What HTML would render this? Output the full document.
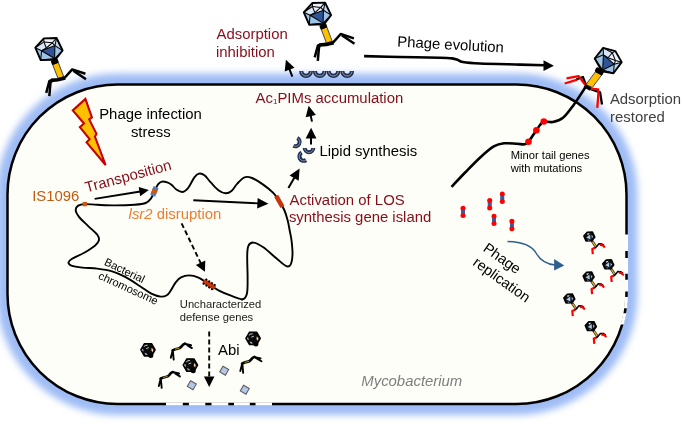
<!DOCTYPE html><html><head><meta charset="utf-8"><style>html,body{margin:0;padding:0;background:#fff;}svg{display:block;will-change:transform;}text{font-family:"Liberation Sans",sans-serif;}</style></head><body>
<svg width="683" height="429" viewBox="0 0 683 429">
<defs><filter id="glow" x="-10%" y="-10%" width="120%" height="120%"><feGaussianBlur stdDeviation="3.6"/></filter></defs>
<rect width="683" height="429" fill="#fff"/>
<rect x="7.5" y="84.5" width="619.0" height="319.5" rx="110" fill="none" stroke="#9ebcf5" stroke-width="22" filter="url(#glow)"/>
<rect x="7.5" y="84.5" width="619.0" height="319.5" rx="110" fill="#fdfef8" stroke="#000" stroke-width="2.5"/>
<defs><clipPath id="gaps"><rect x="166.0" y="396" width="16.8" height="14"/><rect x="188.9" y="396" width="16.4" height="14"/><rect x="211.5" y="396" width="16.8" height="14"/><rect x="234.0" y="396" width="15.8" height="14"/><rect x="255.5" y="396" width="16.5" height="14"/><rect x="615" y="234.6" width="20" height="16.3"/><rect x="615" y="257.9" width="20" height="15.8"/><rect x="615" y="279.7" width="20" height="11.7"/><rect x="615" y="297.0" width="20" height="11.2"/><rect x="615" y="313.3" width="20" height="11.2"/></clipPath></defs>
<rect x="7.5" y="84.5" width="619.0" height="319.5" rx="110" fill="none" stroke="#fff" stroke-width="3.1" clip-path="url(#gaps)"/>
<polygon points="85.4,98.9 91.9,117.4 89.2,119.4 96.5,133.9 94.9,136.5 105.6,165 86.6,142.3 89.6,139.2 79.9,127.2 84,123.5 72.8,110.4" fill="#ffc000" stroke="#c80000" stroke-width="2.1" stroke-linejoin="miter"/>
<path d="M84.80,204.10 C87.98,203.97 92.12,204.58 97.30,204.80 C102.48,205.02 109.70,205.42 115.90,205.40 C122.10,205.38 129.53,205.10 134.50,204.70 C139.47,204.30 142.95,204.03 145.70,203.00 C148.45,201.97 149.55,200.43 151.00,198.50 C152.45,196.57 153.20,193.78 154.40,191.40 C155.60,189.02 156.93,185.83 158.20,184.20 C159.47,182.57 160.62,181.93 162.00,181.60 C163.38,181.27 164.92,181.68 166.50,182.20 C168.08,182.72 169.92,183.53 171.50,184.70 C173.08,185.87 174.17,187.98 176.00,189.20 C177.83,190.42 180.43,192.27 182.50,192.00 C184.57,191.73 186.45,190.00 188.40,187.60 C190.35,185.20 192.43,179.93 194.20,177.60 C195.97,175.27 197.28,173.98 199.00,173.60 C200.72,173.22 202.50,173.78 204.50,175.30 C206.50,176.82 208.68,180.22 211.00,182.70 C213.32,185.18 215.97,188.43 218.40,190.20 C220.83,191.97 223.42,193.17 225.60,193.30 C227.78,193.43 229.55,192.62 231.50,191.00 C233.45,189.38 235.13,185.88 237.30,183.60 C239.47,181.32 242.05,178.23 244.50,177.30 C246.95,176.37 248.88,176.78 252.00,178.00 C255.12,179.22 259.62,182.07 263.20,184.60 C266.78,187.13 270.83,190.43 273.50,193.20 C276.17,195.97 277.40,198.40 279.20,201.20 C281.00,204.00 282.88,206.78 284.30,210.00 C285.72,213.22 286.78,217.00 287.70,220.50 C288.62,224.00 289.15,227.58 289.80,231.00 C290.45,234.42 291.15,237.05 291.60,241.00 C292.05,244.95 292.67,250.77 292.50,254.70 C292.33,258.63 291.63,262.68 290.60,264.60 C289.57,266.52 288.63,267.22 286.30,266.20 C283.97,265.18 280.43,261.65 276.60,258.50 C272.77,255.35 267.12,249.95 263.30,247.30 C259.48,244.65 256.18,242.85 253.70,242.60 C251.22,242.35 249.48,243.57 248.40,245.80 C247.32,248.03 247.33,250.70 247.20,256.00 C247.07,261.30 247.63,271.38 247.60,277.60 C247.57,283.82 247.80,289.70 247.00,293.30 C246.20,296.90 245.47,298.80 242.80,299.20 C240.13,299.60 234.88,297.08 231.00,295.70 C227.12,294.32 223.17,292.80 219.50,290.90 C215.83,289.00 212.50,286.52 209.00,284.30 C205.50,282.08 201.83,279.08 198.50,277.60 C195.17,276.12 191.92,275.43 189.00,275.40 C186.08,275.37 183.22,276.25 181.00,277.40 C178.78,278.55 177.40,280.12 175.70,282.30 C174.00,284.48 172.28,288.33 170.80,290.50 C169.32,292.67 168.50,294.28 166.80,295.30 C165.10,296.32 163.18,296.87 160.60,296.60 C158.02,296.33 154.72,295.43 151.30,293.70 C147.88,291.97 144.45,289.00 140.10,286.20 C135.75,283.40 129.85,279.38 125.20,276.90 C120.55,274.42 116.85,272.68 112.20,271.30 C107.55,269.92 102.27,269.22 97.30,268.60 C92.33,267.98 86.72,268.10 82.40,267.60 C78.08,267.10 73.72,266.47 71.40,265.60 C69.08,264.73 68.45,263.50 68.50,262.40 C68.55,261.30 69.08,260.62 71.70,259.00 C74.32,257.38 80.28,254.97 84.20,252.70 C88.12,250.43 92.75,247.47 95.20,245.40 C97.65,243.33 98.55,242.07 98.90,240.30 C99.25,238.53 99.12,237.20 97.30,234.80 C95.48,232.40 91.05,228.90 88.00,225.90 C84.95,222.90 81.05,219.42 79.00,216.80 C76.95,214.18 75.83,212.07 75.70,210.20 C75.57,208.33 76.68,206.62 78.20,205.60 C79.72,204.58 81.62,204.23 84.80,204.10 Z" fill="none" stroke="#000" stroke-width="1.9"/>
<rect x="82.6" y="201.9" width="4.4" height="4.4" fill="#c55a11"/>
<g transform="translate(154.4,191.4) rotate(21)"><rect x="-2.6" y="-4.7" width="5.2" height="9.4" fill="#3f80e0"/><rect x="-2.6" y="-2.6" width="5.2" height="5.2" fill="#c55a11"/></g>
<g transform="translate(279.3,201.4) rotate(-30)"><rect x="-2.3" y="-6.3" width="4.6" height="12.6" fill="#c7350d"/></g>
<g transform="translate(209.2,284.4) rotate(-57)"><rect x="-2.5" y="-6.6" width="5" height="13.2" fill="#c7350d"/><rect x="-3.5" y="-6.0" width="1.9" height="1.9" fill="#000"/><rect x="1.6" y="-6.0" width="1.9" height="1.9" fill="#000"/><rect x="-3.5" y="-2.6" width="1.9" height="1.9" fill="#000"/><rect x="1.6" y="-2.6" width="1.9" height="1.9" fill="#000"/><rect x="-3.5" y="0.7" width="1.9" height="1.9" fill="#000"/><rect x="1.6" y="0.7" width="1.9" height="1.9" fill="#000"/><rect x="-3.5" y="4.0" width="1.9" height="1.9" fill="#000"/><rect x="1.6" y="4.0" width="1.9" height="1.9" fill="#000"/></g>
<line x1="94.60" y1="198.90" x2="140.41" y2="191.46" stroke="#000" stroke-width="1.90"/><polygon points="148.80,190.10 140.18,196.31 138.66,186.93" fill="#000"/>
<line x1="193.30" y1="200.30" x2="258.41" y2="203.33" stroke="#000" stroke-width="1.90"/><polygon points="268.40,203.80 257.17,208.53 257.66,198.04" fill="#000"/>
<line x1="181.60" y1="223.30" x2="201.00" y2="263.69" stroke="#000" stroke-width="1.90" stroke-dasharray="5,3"/><polygon points="204.90,271.80 195.84,265.06 205.30,260.51" fill="#000"/>
<line x1="209.20" y1="331.50" x2="209.20" y2="377.50" stroke="#000" stroke-width="1.90" stroke-dasharray="5,3"/><polygon points="209.20,387.00 203.95,376.50 214.45,376.50" fill="#000"/>
<line x1="288.40" y1="188.10" x2="294.64" y2="177.18" stroke="#000" stroke-width="2.00"/><polygon points="299.60,168.50 298.70,180.66 289.58,175.45" fill="#000"/>
<line x1="311.00" y1="144.50" x2="311.04" y2="137.50" stroke="#000" stroke-width="2.00"/><polygon points="311.10,127.70 316.44,138.53 305.64,138.47" fill="#000"/>
<line x1="312.00" y1="121.60" x2="310.60" y2="115.09" stroke="#000" stroke-width="2.00"/><polygon points="308.60,105.80 315.94,114.96 305.68,117.17" fill="#000"/>
<line x1="292.30" y1="76.70" x2="289.25" y2="68.59" stroke="#000" stroke-width="2.00"/><polygon points="285.90,59.70 294.51,67.68 284.69,71.38" fill="#000"/>
<g transform="translate(295.35,141.90) rotate(-63.4)"><path d="M-6.30,0.00 A6.30,6.30 0 0 0 6.30,0.00 L2.30,0.00 A2.30,2.30 0 0 1 -2.30,0.00 Z" fill="#18305c"/><path d="M-4.30,0.30 A4.30,4.30 0 0 0 4.30,0.30" fill="none" stroke="#e8b48e" stroke-width="0.60"/></g>
<g transform="translate(309.00,147.90) rotate(0.0)"><path d="M-6.30,0.00 A6.30,6.30 0 0 0 6.30,0.00 L2.30,0.00 A2.30,2.30 0 0 1 -2.30,0.00 Z" fill="#18305c"/><path d="M-4.30,0.30 A4.30,4.30 0 0 0 4.30,0.30" fill="none" stroke="#e8b48e" stroke-width="0.60"/></g>
<g transform="translate(303.85,156.35) rotate(59.6)"><path d="M-6.50,0.00 A6.50,6.50 0 0 0 6.50,0.00 L2.30,0.00 A2.30,2.30 0 0 1 -2.30,0.00 Z" fill="#18305c"/><path d="M-4.40,0.30 A4.40,4.40 0 0 0 4.40,0.30" fill="none" stroke="#e8b48e" stroke-width="0.60"/></g>
<path d="M299.10,71.10 A6.95,6.95 0 0 0 313.00,71.10 L308.75,71.10 A2.70,2.70 0 0 1 303.35,71.10 Z" fill="#18305c"/><path d="M301.23,71.40 A4.83,4.83 0 0 0 310.88,71.40" fill="none" stroke="#e8b48e" stroke-width="0.75"/>
<path d="M312.80,71.10 A6.95,6.95 0 0 0 326.70,71.10 L322.45,71.10 A2.70,2.70 0 0 1 317.05,71.10 Z" fill="#18305c"/><path d="M314.93,71.40 A4.83,4.83 0 0 0 324.57,71.40" fill="none" stroke="#e8b48e" stroke-width="0.75"/>
<path d="M326.50,71.10 A6.95,6.95 0 0 0 340.40,71.10 L336.15,71.10 A2.70,2.70 0 0 1 330.75,71.10 Z" fill="#18305c"/><path d="M328.62,71.40 A4.83,4.83 0 0 0 338.27,71.40" fill="none" stroke="#e8b48e" stroke-width="0.75"/>
<path d="M340.20,71.10 A6.95,6.95 0 0 0 354.10,71.10 L349.85,71.10 A2.70,2.70 0 0 1 344.45,71.10 Z" fill="#18305c"/><path d="M342.32,71.40 A4.83,4.83 0 0 0 351.97,71.40" fill="none" stroke="#e8b48e" stroke-width="0.75"/>
<path d="M364.10,56.10 C370.08,56.25 387.35,56.72 400.00,57.00 C412.65,57.28 431.33,57.57 440.00,57.80 C448.67,58.03 449.07,58.07 452.00,58.40 C454.93,58.73 455.80,59.20 457.60,59.80 C459.40,60.40 459.07,61.38 462.80,62.00 C466.53,62.62 470.47,63.07 480.00,63.50 C489.53,63.93 509.25,64.30 520.00,64.60 C530.75,64.90 540.42,65.18 544.50,65.30" fill="none" stroke="#000" stroke-width="2.6"/>
<polygon points="553.9,65.7 543.5,60.2 543.5,70.9" fill="#000"/>
<path d="M451.50,186.90 C453.85,184.42 460.68,177.03 465.60,172.00 C470.52,166.97 476.30,160.97 481.00,156.70 C485.70,152.43 489.95,148.63 493.80,146.40 C497.65,144.17 500.25,143.73 504.10,143.30 C507.95,142.87 513.48,143.63 516.90,143.80 C520.32,143.97 522.67,144.63 524.60,144.30 C526.53,143.97 527.18,143.18 528.50,141.80 C529.82,140.42 531.18,137.92 532.50,136.00 C533.82,134.08 535.15,132.13 536.40,130.30 C537.65,128.47 538.77,126.45 540.00,125.00 C541.23,123.55 541.67,122.10 543.80,121.60 C545.93,121.10 549.60,122.63 552.80,122.00 C556.00,121.37 559.58,120.57 563.00,117.80 C566.42,115.03 569.87,110.03 573.30,105.40 C576.73,100.77 581.45,93.13 583.60,90.00 C585.75,86.87 585.77,87.17 586.20,86.60" fill="none" stroke="#000" stroke-width="2.6"/>
<circle cx="528.5" cy="141.8" r="3.3" fill="#ff0000"/>
<circle cx="536.4" cy="130.3" r="3.3" fill="#ff0000"/>
<circle cx="543.8" cy="121.5" r="3.3" fill="#ff0000"/>
<rect x="461.1" y="207.9" width="3.8" height="8" fill="#2e5fa8"/>
<circle cx="463.0" cy="208.2" r="2.5" fill="#f00"/><circle cx="463.0" cy="215.6" r="2.5" fill="#f00"/>
<rect x="461.2" y="210.6" width="3.6" height="2.6" fill="#2e5fa8"/>
<rect x="487.8" y="200.2" width="3.8" height="8" fill="#2e5fa8"/>
<circle cx="489.7" cy="200.5" r="2.5" fill="#f00"/><circle cx="489.7" cy="207.9" r="2.5" fill="#f00"/>
<rect x="487.9" y="202.9" width="3.6" height="2.6" fill="#2e5fa8"/>
<rect x="500.4" y="193.8" width="3.8" height="8" fill="#2e5fa8"/>
<circle cx="502.3" cy="194.1" r="2.5" fill="#f00"/><circle cx="502.3" cy="201.5" r="2.5" fill="#f00"/>
<rect x="500.5" y="196.5" width="3.6" height="2.6" fill="#2e5fa8"/>
<rect x="492.1" y="215.9" width="3.8" height="8" fill="#2e5fa8"/>
<circle cx="494.0" cy="216.2" r="2.5" fill="#f00"/><circle cx="494.0" cy="223.6" r="2.5" fill="#f00"/>
<rect x="492.2" y="218.6" width="3.6" height="2.6" fill="#2e5fa8"/>
<rect x="510.0" y="221.0" width="3.8" height="8" fill="#2e5fa8"/>
<circle cx="511.9" cy="221.3" r="2.5" fill="#f00"/><circle cx="511.9" cy="228.7" r="2.5" fill="#f00"/>
<rect x="510.1" y="223.7" width="3.6" height="2.6" fill="#2e5fa8"/>
<path d="M507.5,241.6 C522,242 532,246 536,253 C540,260 545,264 555,265" fill="none" stroke="#2e5f8e" stroke-width="1.5"/>
<polygon points="564.3,265.4 554.1,258.9 554.1,270.5" fill="#2e5f8e"/>
<g transform="translate(148.00,349.80) rotate(0.00)">
<polygon points="7.30,0.00 3.65,6.32 -3.65,6.32 -7.30,0.00 -3.65,-6.32 3.65,-6.32" fill="#0b0b0b" stroke="#000" stroke-width="1.2" stroke-linejoin="round"/>
<path d="M-4.2,-3.2 Q-2.5,-4.8 -0.5,-4.6 M-1.8,-1.2 L0.8,-2.2 M-5.6,-0.6 L-4.8,1.4 M-3.2,3.6 L-1.2,4.4" stroke="#fff" stroke-width="0.9" fill="none" opacity="0.9"/>
<path d="M-5.2,-0.8 L-5.6,0.6 M-2.6,4.6 L-0.6,4.9" stroke="#8fb4e0" stroke-width="0.9"/>
<polygon points="3.6,-2.0 5.4,-0.4 4.8,2.4 3.4,0.8" fill="#f6c8a6"/>
<circle cx="2.8" cy="5.6" r="2.5" fill="#000"/>
</g>
<g transform="translate(190.40,365.10) rotate(0.00)">
<polygon points="7.30,0.00 3.65,6.32 -3.65,6.32 -7.30,0.00 -3.65,-6.32 3.65,-6.32" fill="#0b0b0b" stroke="#000" stroke-width="1.2" stroke-linejoin="round"/>
<path d="M-4.2,-3.2 Q-2.5,-4.8 -0.5,-4.6 M-1.8,-1.2 L0.8,-2.2 M-5.6,-0.6 L-4.8,1.4 M-3.2,3.6 L-1.2,4.4" stroke="#fff" stroke-width="0.9" fill="none" opacity="0.9"/>
<path d="M-5.2,-0.8 L-5.6,0.6 M-2.6,4.6 L-0.6,4.9" stroke="#8fb4e0" stroke-width="0.9"/>
<polygon points="3.6,-2.0 5.4,-0.4 4.8,2.4 3.4,0.8" fill="#f6c8a6"/>
<circle cx="2.8" cy="5.6" r="2.5" fill="#000"/>
</g>
<g transform="translate(253.10,338.40) rotate(0.00)">
<polygon points="7.30,0.00 3.65,6.32 -3.65,6.32 -7.30,0.00 -3.65,-6.32 3.65,-6.32" fill="#0b0b0b" stroke="#000" stroke-width="1.2" stroke-linejoin="round"/>
<path d="M-4.2,-3.2 Q-2.5,-4.8 -0.5,-4.6 M-1.8,-1.2 L0.8,-2.2 M-5.6,-0.6 L-4.8,1.4 M-3.2,3.6 L-1.2,4.4" stroke="#fff" stroke-width="0.9" fill="none" opacity="0.9"/>
<path d="M-5.2,-0.8 L-5.6,0.6 M-2.6,4.6 L-0.6,4.9" stroke="#8fb4e0" stroke-width="0.9"/>
<polygon points="3.6,-2.0 5.4,-0.4 4.8,2.4 3.4,0.8" fill="#f6c8a6"/>
<circle cx="2.8" cy="5.6" r="2.5" fill="#000"/>
</g>
<g transform="translate(181.00,351.00) rotate(0.00)" fill="none" stroke="#000" stroke-linejoin="round" stroke-linecap="round">
<path d="M-8.2,-0.9 L-10.2,6.8 M-8.2,-0.6 L-7.3,8.6" stroke-width="1.9"/>
<path d="M-8.4,-0.6 Q-5.5,-2 -3.5,-2.3 Q-1,-2.6 0.6,-4.6 Q1.6,-6.6 3.9,-7.3" stroke-width="2.6"/>
<path d="M3.4,-7.3 L10.1,-5.8 M5.3,-6.3 L10.9,-2.9" stroke-width="1.9"/>
<path d="M-5.6,-1.9 Q-3.6,-2.3 -1.8,-2.8" stroke="#e8c020" stroke-width="0.8"/>
</g>
<g transform="translate(169.00,379.30) rotate(0.00)" fill="none" stroke="#000" stroke-linejoin="round" stroke-linecap="round">
<path d="M-8.2,-0.9 L-10.2,6.8 M-8.2,-0.6 L-7.3,8.6" stroke-width="1.9"/>
<path d="M-8.4,-0.6 Q-5.5,-2 -3.5,-2.3 Q-1,-2.6 0.6,-4.6 Q1.6,-6.6 3.9,-7.3" stroke-width="2.6"/>
<path d="M3.4,-7.3 L10.1,-5.8 M5.3,-6.3 L10.9,-2.9" stroke-width="1.9"/>
<path d="M-5.6,-1.9 Q-3.6,-2.3 -1.8,-2.8" stroke="#e8c020" stroke-width="0.8"/>
</g>
<g transform="translate(250.50,364.20) rotate(0.00)" fill="none" stroke="#000" stroke-linejoin="round" stroke-linecap="round">
<path d="M-8.2,-0.9 L-10.2,6.8 M-8.2,-0.6 L-7.3,8.6" stroke-width="1.9"/>
<path d="M-8.4,-0.6 Q-5.5,-2 -3.5,-2.3 Q-1,-2.6 0.6,-4.6 Q1.6,-6.6 3.9,-7.3" stroke-width="2.6"/>
<path d="M3.4,-7.3 L10.1,-5.8 M5.3,-6.3 L10.9,-2.9" stroke-width="1.9"/>
<path d="M-5.6,-1.9 Q-3.6,-2.3 -1.8,-2.8" stroke="#e8c020" stroke-width="0.8"/>
</g>
<rect x="188.50" y="381.90" width="6.60" height="6.60" transform="rotate(30.0 191.80 385.20)" fill="#b4c7e7" stroke="#59595b" stroke-width="1"/>
<rect x="220.90" y="367.40" width="6.60" height="6.60" transform="rotate(30.0 224.20 370.70)" fill="#b4c7e7" stroke="#59595b" stroke-width="1"/>
<rect x="241.50" y="386.40" width="6.60" height="6.60" transform="rotate(30.0 244.80 389.70)" fill="#b4c7e7" stroke="#59595b" stroke-width="1"/>
<g transform="translate(48.90,49.20)">
<g transform="rotate(-21)">
<rect x="-2.0" y="15.6" width="6.0" height="15.2" fill="#ffc000" stroke="#4a4a5a" stroke-width="1"/>
<rect x="-2.6" y="11.6" width="7.2" height="4.6" rx="1.2" fill="#000"/>
</g>
<path d="M2.3,31.2 L9,30.6 L16.3,28.9" fill="none" stroke="#000" stroke-width="3.6"/>
<path d="M3.3,30.4 L0.5,31.8 L-2.7,43.6" fill="none" stroke="#000" stroke-width="2.5" stroke-linejoin="round" stroke-linecap="butt"/>
<path d="M2.6,32.2 L1.6,33.4 L0.4,47" fill="none" stroke="#000" stroke-width="2.5" stroke-linejoin="round" stroke-linecap="butt"/>
<path d="M15.6,28.8 L23.3,20.2 L36.5,24.6" fill="none" stroke="#000" stroke-width="2.5" stroke-linejoin="round" stroke-linecap="butt"/>
<path d="M24.4,21.4 L37.1,30" fill="none" stroke="#000" stroke-width="2.5" stroke-linejoin="round" stroke-linecap="butt"/>
<polygon points="-5.00,-10.80 7.70,-11.20 13.70,1.30 6.50,10.50 -8.20,10.90 -13.60,-1.50" fill="#eaf1fa"/>
<polygon points="6.00,-3.60 7.70,-11.20 13.70,1.30" fill="#bdd7ee"/>
<polygon points="6.00,-3.60 13.70,1.30 5.70,9.30" fill="#9dc3e6"/>
<polygon points="5.70,9.30 13.70,1.30 6.50,10.50" fill="#bdd7ee"/>
<polygon points="-7.30,1.50 5.70,9.30 6.50,10.50 -8.20,10.90" fill="#9dc3e6"/>
<polygon points="-7.30,1.50 -8.20,10.90 -13.60,-1.50" fill="#9dc3e6"/>
<polygon points="-7.30,1.50 -13.60,-1.50 -5.00,-7.30 -2.60,-1.20" fill="#d7e7f7"/>
<polygon points="-7.30,1.50 6.00,-3.60 5.70,9.30" fill="#2f5597"/>
<line x1="-7.30" y1="1.50" x2="6.00" y2="-3.60" stroke="#000" stroke-width="1.05"/>
<line x1="6.00" y1="-3.60" x2="5.70" y2="9.30" stroke="#000" stroke-width="1.05"/>
<line x1="5.70" y1="9.30" x2="-7.30" y2="1.50" stroke="#000" stroke-width="1.05"/>
<line x1="-7.30" y1="1.50" x2="-13.60" y2="-1.50" stroke="#000" stroke-width="1.05"/>
<line x1="-7.30" y1="1.50" x2="-8.20" y2="10.90" stroke="#000" stroke-width="1.05"/>
<line x1="5.70" y1="9.30" x2="-8.20" y2="10.90" stroke="#000" stroke-width="1.05"/>
<line x1="5.70" y1="9.30" x2="6.50" y2="10.50" stroke="#000" stroke-width="1.05"/>
<line x1="5.70" y1="9.30" x2="13.70" y2="1.30" stroke="#000" stroke-width="1.05"/>
<line x1="6.00" y1="-3.60" x2="13.70" y2="1.30" stroke="#000" stroke-width="1.05"/>
<line x1="6.00" y1="-3.60" x2="7.70" y2="-11.20" stroke="#000" stroke-width="1.05"/>
<line x1="-5.00" y1="-7.30" x2="3.40" y2="-6.40" stroke="#000" stroke-width="1.05"/>
<line x1="3.40" y1="-6.40" x2="-2.60" y2="-1.20" stroke="#000" stroke-width="1.05"/>
<line x1="-2.60" y1="-1.20" x2="-5.00" y2="-7.30" stroke="#000" stroke-width="1.05"/>
<line x1="-5.00" y1="-7.30" x2="-13.60" y2="-1.50" stroke="#000" stroke-width="1.05"/>
<line x1="-5.00" y1="-7.30" x2="-5.00" y2="-10.80" stroke="#000" stroke-width="1.05"/>
<line x1="3.40" y1="-6.40" x2="7.70" y2="-11.20" stroke="#000" stroke-width="1.05"/>
<line x1="-2.60" y1="-1.20" x2="-7.30" y2="1.50" stroke="#000" stroke-width="1.05"/>
<line x1="3.40" y1="-6.40" x2="6.00" y2="-3.60" stroke="#000" stroke-width="1.05"/>
<polygon points="-5.00,-10.80 7.70,-11.20 13.70,1.30 6.50,10.50 -8.20,10.90 -13.60,-1.50" fill="none" stroke="#000" stroke-width="1.9" stroke-linejoin="round"/>
</g>
<g transform="translate(317.40,13.80)">
<g transform="rotate(-21)">
<rect x="-2.0" y="15.6" width="6.0" height="15.2" fill="#ffc000" stroke="#4a4a5a" stroke-width="1"/>
<rect x="-2.6" y="11.6" width="7.2" height="4.6" rx="1.2" fill="#000"/>
</g>
<path d="M2.3,31.2 L9,30.6 L16.3,28.9" fill="none" stroke="#000" stroke-width="3.6"/>
<path d="M3.3,30.4 L0.5,31.8 L-2.7,43.6" fill="none" stroke="#000" stroke-width="2.5" stroke-linejoin="round" stroke-linecap="butt"/>
<path d="M2.6,32.2 L1.6,33.4 L0.4,47" fill="none" stroke="#000" stroke-width="2.5" stroke-linejoin="round" stroke-linecap="butt"/>
<path d="M15.6,28.8 L23.3,20.2 L36.5,24.6" fill="none" stroke="#000" stroke-width="2.5" stroke-linejoin="round" stroke-linecap="butt"/>
<path d="M24.4,21.4 L37.1,30" fill="none" stroke="#000" stroke-width="2.5" stroke-linejoin="round" stroke-linecap="butt"/>
<polygon points="-5.00,-10.80 7.70,-11.20 13.70,1.30 6.50,10.50 -8.20,10.90 -13.60,-1.50" fill="#eaf1fa"/>
<polygon points="6.00,-3.60 7.70,-11.20 13.70,1.30" fill="#bdd7ee"/>
<polygon points="6.00,-3.60 13.70,1.30 5.70,9.30" fill="#9dc3e6"/>
<polygon points="5.70,9.30 13.70,1.30 6.50,10.50" fill="#bdd7ee"/>
<polygon points="-7.30,1.50 5.70,9.30 6.50,10.50 -8.20,10.90" fill="#9dc3e6"/>
<polygon points="-7.30,1.50 -8.20,10.90 -13.60,-1.50" fill="#9dc3e6"/>
<polygon points="-7.30,1.50 -13.60,-1.50 -5.00,-7.30 -2.60,-1.20" fill="#d7e7f7"/>
<polygon points="-7.30,1.50 6.00,-3.60 5.70,9.30" fill="#2f5597"/>
<line x1="-7.30" y1="1.50" x2="6.00" y2="-3.60" stroke="#000" stroke-width="1.05"/>
<line x1="6.00" y1="-3.60" x2="5.70" y2="9.30" stroke="#000" stroke-width="1.05"/>
<line x1="5.70" y1="9.30" x2="-7.30" y2="1.50" stroke="#000" stroke-width="1.05"/>
<line x1="-7.30" y1="1.50" x2="-13.60" y2="-1.50" stroke="#000" stroke-width="1.05"/>
<line x1="-7.30" y1="1.50" x2="-8.20" y2="10.90" stroke="#000" stroke-width="1.05"/>
<line x1="5.70" y1="9.30" x2="-8.20" y2="10.90" stroke="#000" stroke-width="1.05"/>
<line x1="5.70" y1="9.30" x2="6.50" y2="10.50" stroke="#000" stroke-width="1.05"/>
<line x1="5.70" y1="9.30" x2="13.70" y2="1.30" stroke="#000" stroke-width="1.05"/>
<line x1="6.00" y1="-3.60" x2="13.70" y2="1.30" stroke="#000" stroke-width="1.05"/>
<line x1="6.00" y1="-3.60" x2="7.70" y2="-11.20" stroke="#000" stroke-width="1.05"/>
<line x1="-5.00" y1="-7.30" x2="3.40" y2="-6.40" stroke="#000" stroke-width="1.05"/>
<line x1="3.40" y1="-6.40" x2="-2.60" y2="-1.20" stroke="#000" stroke-width="1.05"/>
<line x1="-2.60" y1="-1.20" x2="-5.00" y2="-7.30" stroke="#000" stroke-width="1.05"/>
<line x1="-5.00" y1="-7.30" x2="-13.60" y2="-1.50" stroke="#000" stroke-width="1.05"/>
<line x1="-5.00" y1="-7.30" x2="-5.00" y2="-10.80" stroke="#000" stroke-width="1.05"/>
<line x1="3.40" y1="-6.40" x2="7.70" y2="-11.20" stroke="#000" stroke-width="1.05"/>
<line x1="-2.60" y1="-1.20" x2="-7.30" y2="1.50" stroke="#000" stroke-width="1.05"/>
<line x1="3.40" y1="-6.40" x2="6.00" y2="-3.60" stroke="#000" stroke-width="1.05"/>
<polygon points="-5.00,-10.80 7.70,-11.20 13.70,1.30 6.50,10.50 -8.20,10.90 -13.60,-1.50" fill="none" stroke="#000" stroke-width="1.9" stroke-linejoin="round"/>
</g>
<polygon points="595.2,72.0 602.2,74.4 592.4,87.4 586.0,84.6" fill="#ffc000" stroke="#4a4a5a" stroke-width="1"/>
<g transform="translate(599.4,71.3) rotate(31)"><rect x="-4.4" y="-2.6" width="8.8" height="5.2" rx="1.5" fill="#000"/></g>
<path d="M584.4,85.6 L590.9,89.2" stroke="#000" stroke-width="3.6"/>
<path d="M576.3,79.3 L582.9,77 L585.7,84.5" stroke="#000" fill="none" stroke-width="2.3" stroke-linejoin="round"/>
<path d="M590.8,89.1 L600.1,92.4 L602,104.5" stroke="#000" fill="none" stroke-width="2.3" stroke-linejoin="round"/>
<path d="M585.2,84.9 L578.7,76.1 L566.5,78.4" stroke="#f00" fill="none" stroke-width="2.3" stroke-linejoin="round"/>
<path d="M577.3,79.6 L564.7,83.5" stroke="#f00" fill="none" stroke-width="2.3" stroke-linejoin="round"/>
<path d="M590.8,88.7 L598.2,89.3 L598.4,93.3 L597.3,107.8" stroke="#f00" fill="none" stroke-width="2.3" stroke-linejoin="round"/>
<g transform="translate(608.20,60.60) rotate(62)">
<polygon points="-5.00,-10.80 7.70,-11.20 13.70,1.30 6.50,10.50 -8.20,10.90 -13.60,-1.50" fill="#eaf1fa"/>
<polygon points="6.00,-3.60 7.70,-11.20 13.70,1.30" fill="#bdd7ee"/>
<polygon points="6.00,-3.60 13.70,1.30 5.70,9.30" fill="#9dc3e6"/>
<polygon points="5.70,9.30 13.70,1.30 6.50,10.50" fill="#bdd7ee"/>
<polygon points="-7.30,1.50 5.70,9.30 6.50,10.50 -8.20,10.90" fill="#9dc3e6"/>
<polygon points="-7.30,1.50 -8.20,10.90 -13.60,-1.50" fill="#9dc3e6"/>
<polygon points="-7.30,1.50 -13.60,-1.50 -5.00,-7.30 -2.60,-1.20" fill="#d7e7f7"/>
<polygon points="-7.30,1.50 6.00,-3.60 5.70,9.30" fill="#2f5597"/>
<line x1="-7.30" y1="1.50" x2="6.00" y2="-3.60" stroke="#000" stroke-width="1.05"/>
<line x1="6.00" y1="-3.60" x2="5.70" y2="9.30" stroke="#000" stroke-width="1.05"/>
<line x1="5.70" y1="9.30" x2="-7.30" y2="1.50" stroke="#000" stroke-width="1.05"/>
<line x1="-7.30" y1="1.50" x2="-13.60" y2="-1.50" stroke="#000" stroke-width="1.05"/>
<line x1="-7.30" y1="1.50" x2="-8.20" y2="10.90" stroke="#000" stroke-width="1.05"/>
<line x1="5.70" y1="9.30" x2="-8.20" y2="10.90" stroke="#000" stroke-width="1.05"/>
<line x1="5.70" y1="9.30" x2="6.50" y2="10.50" stroke="#000" stroke-width="1.05"/>
<line x1="5.70" y1="9.30" x2="13.70" y2="1.30" stroke="#000" stroke-width="1.05"/>
<line x1="6.00" y1="-3.60" x2="13.70" y2="1.30" stroke="#000" stroke-width="1.05"/>
<line x1="6.00" y1="-3.60" x2="7.70" y2="-11.20" stroke="#000" stroke-width="1.05"/>
<line x1="-5.00" y1="-7.30" x2="3.40" y2="-6.40" stroke="#000" stroke-width="1.05"/>
<line x1="3.40" y1="-6.40" x2="-2.60" y2="-1.20" stroke="#000" stroke-width="1.05"/>
<line x1="-2.60" y1="-1.20" x2="-5.00" y2="-7.30" stroke="#000" stroke-width="1.05"/>
<line x1="-5.00" y1="-7.30" x2="-13.60" y2="-1.50" stroke="#000" stroke-width="1.05"/>
<line x1="-5.00" y1="-7.30" x2="-5.00" y2="-10.80" stroke="#000" stroke-width="1.05"/>
<line x1="3.40" y1="-6.40" x2="7.70" y2="-11.20" stroke="#000" stroke-width="1.05"/>
<line x1="-2.60" y1="-1.20" x2="-7.30" y2="1.50" stroke="#000" stroke-width="1.05"/>
<line x1="3.40" y1="-6.40" x2="6.00" y2="-3.60" stroke="#000" stroke-width="1.05"/>
<polygon points="-5.00,-10.80 7.70,-11.20 13.70,1.30 6.50,10.50 -8.20,10.90 -13.60,-1.50" fill="none" stroke="#000" stroke-width="1.9" stroke-linejoin="round"/>
</g>
<g transform="translate(589.30,236.60)">
<line x1="2.6" y1="4.2" x2="7" y2="10.6" stroke="#2a2a3a" stroke-width="2.7"/>
<line x1="3.2" y1="5.1" x2="6.6" y2="10.0" stroke="#f0b820" stroke-width="1.2"/>
<path d="M6.8,10.6 L9.6,7.2 L12.8,7.4 L14.9,8.9" fill="none" stroke="#000" stroke-width="1.5" stroke-linejoin="round"/>
<path d="M10.6,8.4 L13.2,8.7 L15.6,10.8" fill="none" stroke="#f00" stroke-width="2.1" stroke-linejoin="round"/>
<path d="M7,10.8 L4.6,11.6" fill="none" stroke="#000" stroke-width="1.5"/>
<path d="M5.7,11.2 L3,12.4 L3.5,17.6" fill="none" stroke="#f00" stroke-width="2.2" stroke-linejoin="round"/>
<polygon points="-2.00,-4.32 3.08,-4.48 5.48,0.52 2.60,4.20 -3.28,4.36 -5.44,-0.60" fill="#111" stroke="#000" stroke-width="1.6" stroke-linejoin="round"/>
<polygon points="-3.0,0.9 0.9,-2.1 1.1,2.9" fill="#a8cbee"/>
<polygon points="2.2,-1.7 3.9,-0.1 2.5,2.0" fill="#9dc3e6"/>
<polygon points="-2.4,-2.9 0.4,-3.6 -1.3,-1.4" fill="#e6eef8"/>
<polygon points="-2.0,2.9 0.4,3.5 -0.7,4.1" fill="#8fb6e2"/>
</g>
<g transform="translate(608.20,264.40)">
<line x1="2.6" y1="4.2" x2="7" y2="10.6" stroke="#2a2a3a" stroke-width="2.7"/>
<line x1="3.2" y1="5.1" x2="6.6" y2="10.0" stroke="#f0b820" stroke-width="1.2"/>
<path d="M6.8,10.6 L9.6,7.2 L12.8,7.4 L14.9,8.9" fill="none" stroke="#000" stroke-width="1.5" stroke-linejoin="round"/>
<path d="M10.6,8.4 L13.2,8.7 L15.6,10.8" fill="none" stroke="#f00" stroke-width="2.1" stroke-linejoin="round"/>
<path d="M7,10.8 L4.6,11.6" fill="none" stroke="#000" stroke-width="1.5"/>
<path d="M5.7,11.2 L3,12.4 L3.5,17.6" fill="none" stroke="#f00" stroke-width="2.2" stroke-linejoin="round"/>
<polygon points="-2.00,-4.32 3.08,-4.48 5.48,0.52 2.60,4.20 -3.28,4.36 -5.44,-0.60" fill="#111" stroke="#000" stroke-width="1.6" stroke-linejoin="round"/>
<polygon points="-3.0,0.9 0.9,-2.1 1.1,2.9" fill="#a8cbee"/>
<polygon points="2.2,-1.7 3.9,-0.1 2.5,2.0" fill="#9dc3e6"/>
<polygon points="-2.4,-2.9 0.4,-3.6 -1.3,-1.4" fill="#e6eef8"/>
<polygon points="-2.0,2.9 0.4,3.5 -0.7,4.1" fill="#8fb6e2"/>
</g>
<g transform="translate(588.60,276.60)">
<line x1="2.6" y1="4.2" x2="7" y2="10.6" stroke="#2a2a3a" stroke-width="2.7"/>
<line x1="3.2" y1="5.1" x2="6.6" y2="10.0" stroke="#f0b820" stroke-width="1.2"/>
<path d="M6.8,10.6 L9.6,7.2 L12.8,7.4 L14.9,8.9" fill="none" stroke="#000" stroke-width="1.5" stroke-linejoin="round"/>
<path d="M10.6,8.4 L13.2,8.7 L15.6,10.8" fill="none" stroke="#f00" stroke-width="2.1" stroke-linejoin="round"/>
<path d="M7,10.8 L4.6,11.6" fill="none" stroke="#000" stroke-width="1.5"/>
<path d="M5.7,11.2 L3,12.4 L3.5,17.6" fill="none" stroke="#f00" stroke-width="2.2" stroke-linejoin="round"/>
<polygon points="-2.00,-4.32 3.08,-4.48 5.48,0.52 2.60,4.20 -3.28,4.36 -5.44,-0.60" fill="#111" stroke="#000" stroke-width="1.6" stroke-linejoin="round"/>
<polygon points="-3.0,0.9 0.9,-2.1 1.1,2.9" fill="#a8cbee"/>
<polygon points="2.2,-1.7 3.9,-0.1 2.5,2.0" fill="#9dc3e6"/>
<polygon points="-2.4,-2.9 0.4,-3.6 -1.3,-1.4" fill="#e6eef8"/>
<polygon points="-2.0,2.9 0.4,3.5 -0.7,4.1" fill="#8fb6e2"/>
</g>
<g transform="translate(569.30,298.60)">
<line x1="2.6" y1="4.2" x2="7" y2="10.6" stroke="#2a2a3a" stroke-width="2.7"/>
<line x1="3.2" y1="5.1" x2="6.6" y2="10.0" stroke="#f0b820" stroke-width="1.2"/>
<path d="M6.8,10.6 L9.6,7.2 L12.8,7.4 L14.9,8.9" fill="none" stroke="#000" stroke-width="1.5" stroke-linejoin="round"/>
<path d="M10.6,8.4 L13.2,8.7 L15.6,10.8" fill="none" stroke="#f00" stroke-width="2.1" stroke-linejoin="round"/>
<path d="M7,10.8 L4.6,11.6" fill="none" stroke="#000" stroke-width="1.5"/>
<path d="M5.7,11.2 L3,12.4 L3.5,17.6" fill="none" stroke="#f00" stroke-width="2.2" stroke-linejoin="round"/>
<polygon points="-2.00,-4.32 3.08,-4.48 5.48,0.52 2.60,4.20 -3.28,4.36 -5.44,-0.60" fill="#111" stroke="#000" stroke-width="1.6" stroke-linejoin="round"/>
<polygon points="-3.0,0.9 0.9,-2.1 1.1,2.9" fill="#a8cbee"/>
<polygon points="2.2,-1.7 3.9,-0.1 2.5,2.0" fill="#9dc3e6"/>
<polygon points="-2.4,-2.9 0.4,-3.6 -1.3,-1.4" fill="#e6eef8"/>
<polygon points="-2.0,2.9 0.4,3.5 -0.7,4.1" fill="#8fb6e2"/>
</g>
<g transform="translate(590.80,326.20)">
<line x1="2.6" y1="4.2" x2="7" y2="10.6" stroke="#2a2a3a" stroke-width="2.7"/>
<line x1="3.2" y1="5.1" x2="6.6" y2="10.0" stroke="#f0b820" stroke-width="1.2"/>
<path d="M6.8,10.6 L9.6,7.2 L12.8,7.4 L14.9,8.9" fill="none" stroke="#000" stroke-width="1.5" stroke-linejoin="round"/>
<path d="M10.6,8.4 L13.2,8.7 L15.6,10.8" fill="none" stroke="#f00" stroke-width="2.1" stroke-linejoin="round"/>
<path d="M7,10.8 L4.6,11.6" fill="none" stroke="#000" stroke-width="1.5"/>
<path d="M5.7,11.2 L3,12.4 L3.5,17.6" fill="none" stroke="#f00" stroke-width="2.2" stroke-linejoin="round"/>
<polygon points="-2.00,-4.32 3.08,-4.48 5.48,0.52 2.60,4.20 -3.28,4.36 -5.44,-0.60" fill="#111" stroke="#000" stroke-width="1.6" stroke-linejoin="round"/>
<polygon points="-3.0,0.9 0.9,-2.1 1.1,2.9" fill="#a8cbee"/>
<polygon points="2.2,-1.7 3.9,-0.1 2.5,2.0" fill="#9dc3e6"/>
<polygon points="-2.4,-2.9 0.4,-3.6 -1.3,-1.4" fill="#e6eef8"/>
<polygon points="-2.0,2.9 0.4,3.5 -0.7,4.1" fill="#8fb6e2"/>
</g>
<text x="99.2" y="118.5" font-size="14.9" fill="#000">Phage infection</text>
<text x="130.9" y="136.8" font-size="14.9" fill="#000">stress</text>
<text x="216.5" y="38.7" font-size="14.9" fill="#870d1a">Adsorption</text>
<text x="216.0" y="56.8" font-size="14.9" fill="#870d1a">inhibition</text>
<text transform="translate(397,46.5) rotate(3.2)" font-size="14.9" fill="#000">Phage evolution</text>
<text x="255.6" y="102.6" font-size="14.9" fill="#870d1a">Ac<tspan font-size="8" dy="1.2">1</tspan><tspan dy="-1.2">PIMs accumulation</tspan></text>
<text x="319.5" y="156.1" font-size="14.9" fill="#000">Lipid synthesis</text>
<text x="289.6" y="204.5" font-size="14.9" fill="#870d1a">Activation of LOS</text>
<text x="288.9" y="221.9" font-size="14.9" fill="#870d1a">synthesis gene island</text>
<text x="32.2" y="201.1" font-size="14.9" fill="#c55a11">IS1096</text>
<text transform="translate(86.5,192.6) rotate(-15.2)" font-size="14.9" fill="#870d1a">Transposition</text>
<text x="128.6" y="218.6" font-size="14.9" fill="#ed7d31"><tspan font-style="italic">lsr2</tspan> disruption</text>
<text transform="translate(103.6,264.4) rotate(26)" font-size="11.1" fill="#000">Bacterial</text>
<text transform="translate(97.6,278.4) rotate(24.5)" font-size="11.1" fill="#000">chromosome</text>
<text x="179.8" y="308.2" font-size="11.2" fill="#1a1a1a">Uncharacterized</text>
<text x="179.8" y="321.4" font-size="11.2" fill="#1a1a1a">defense genes</text>
<text x="218.0" y="355.1" font-size="14.9" fill="#000">Abi</text>
<text x="361.3" y="386.1" font-size="14.9" fill="#7f7f7f" font-style="italic">Mycobacterium</text>
<text x="510.7" y="159.2" font-size="11.2" fill="#000">Minor tail genes</text>
<text x="510.7" y="172.4" font-size="11.2" fill="#000">with mutations</text>
<text x="609.9" y="103.5" font-size="14.9" fill="#404040">Adsorption</text>
<text x="610.1" y="121.8" font-size="14.9" fill="#404040">restored</text>
<text transform="translate(482.2,250.2) rotate(35.5)" font-size="14.5" fill="#000"><tspan x="0" y="0">Phage</tspan><tspan x="0" y="17.6">replication</tspan></text>
</svg></body></html>
